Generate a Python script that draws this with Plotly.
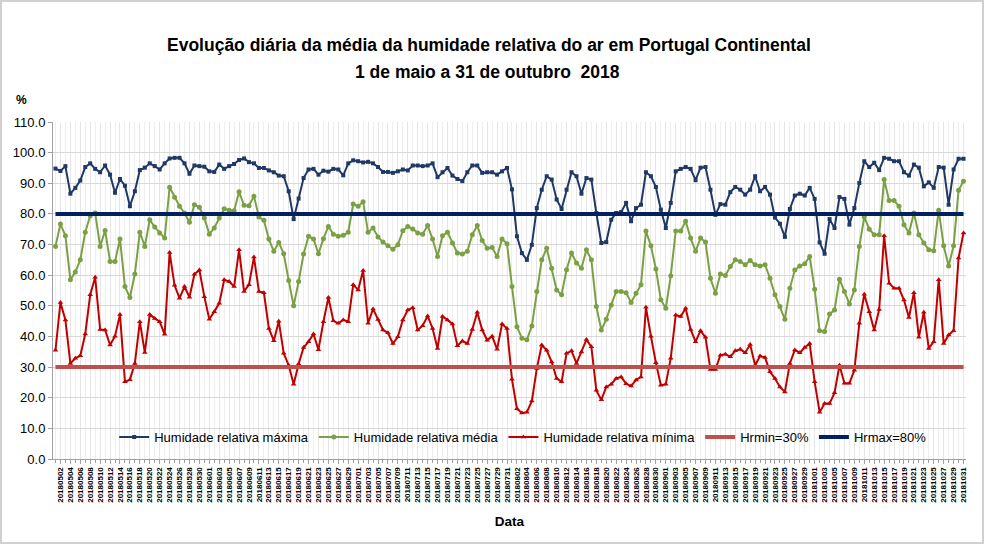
import plotly.graph_objects as go
import pandas as pd

dates = [d.strftime("%Y%m%d") for d in pd.date_range("2018-05-01", "2018-10-31", freq="D")]

hr_max = [
    94.8, 94.0, 95.6, 86.6, 88.5, 90.9, 95.3, 96.5, 94.7, 93.6, 95.8, 92.8, 86.9, 91.4, 89.2, 82.5,
    87.4, 94.3, 95.1, 96.5, 95.6, 94.5, 96.5, 98.1, 98.3, 98.3, 96.5, 93.1,
    95.8, 95.6, 95.4, 93.9, 93.7, 96.1, 94.7, 95.6, 96.3, 97.6, 98.1, 96.9, 96.5, 95.0, 95.0, 94.2,
    93.6, 92.5, 92.3, 87.4, 78.3, 85.0,
    91.7, 94.5, 94.7, 92.8, 94.1, 93.8, 94.7, 94.5, 92.6, 96.5, 97.5, 97.2, 96.8, 97.0, 96.5, 95.3,
    93.7, 93.7, 93.4, 93.9, 94.5, 94.2, 95.8, 95.8, 95.6, 95.8, 96.5, 92.0, 93.6, 95.0, 92.5, 91.4,
    90.7, 93.6, 95.8, 95.8, 93.4, 93.6, 93.6, 92.8, 93.9, 95.0, 88.0,
    72.7, 67.2, 65.0, 69.9, 81.9, 87.9, 92.3, 91.2, 84.7, 81.6, 87.9, 93.6, 92.3, 86.6, 91.7, 91.2,
    80.3, 70.5, 70.8, 78.1, 80.3, 80.6, 83.6, 77.6, 81.9, 83.0, 93.6, 92.3, 88.8, 81.4,
    75.4, 83.6, 93.9, 94.7, 95.3, 94.7, 91.0, 95.1, 95.3, 87.9, 79.7, 83.2, 83.0, 87.1, 88.8, 87.9,
    86.3, 87.9, 92.3, 87.4, 88.8, 86.3, 78.8, 76.8, 72.5, 81.6, 86.0, 86.6, 86.0, 88.5,
    84.9, 70.7, 67.0, 78.3, 75.4, 85.5, 84.9, 76.5, 81.9, 90.1, 97.2, 95.3, 96.7, 94.3, 98.3, 98.0,
    97.2, 97.2, 93.6, 92.5, 96.1, 95.1, 89.0, 90.3, 88.5, 95.3, 95.1, 83.0, 94.5, 98.0, 98.0,
]

hr_med = [
    69.4, 76.7, 72.9, 58.5, 61.0, 65.0, 74.0, 79.4, 80.3, 69.4, 74.6, 64.5, 64.5, 71.8, 56.3, 52.7,
    60.4, 74.0, 69.4, 78.1, 75.7, 73.8, 72.1, 88.7, 85.4, 82.5, 80.3, 77.3, 83.0, 82.2, 78.7, 73.4,
    75.4, 78.7, 81.7, 81.2, 81.0, 87.2, 82.8, 82.7, 85.8, 79.0, 77.9, 71.8, 67.8, 70.7, 67.0, 58.3,
    50.0, 57.9, 66.9, 72.7, 71.8, 67.0, 71.9, 75.9, 73.4, 72.7, 73.0, 74.0, 83.2, 82.5,
    84.0, 74.0, 75.4, 72.5, 70.8, 69.6, 68.5, 69.9, 74.5, 75.9, 75.1, 73.8, 73.4, 76.2, 71.8, 66.1,
    72.9, 74.0, 70.5, 67.2, 66.9, 67.8, 73.2, 76.2, 71.3, 68.8, 69.0, 66.1, 71.8, 70.3, 56.3,
    43.2, 39.4, 38.9, 43.4, 54.7, 65.0, 68.8, 62.3, 55.2, 53.6, 61.8, 67.2, 64.0, 62.3, 68.3, 65.0,
    49.8, 42.1, 45.6, 50.3, 54.7, 54.7, 54.3, 51.1, 54.1, 56.9, 74.4, 69.6, 62.0, 52.0,
    49.2, 59.8, 74.4, 74.4, 77.6, 72.1, 67.8, 72.1, 70.8, 59.0, 54.1, 60.4, 59.9, 62.8, 65.0, 64.5,
    63.4, 64.8, 63.4, 63.0, 63.4, 59.0, 53.6, 49.8, 45.6, 55.7, 61.7, 63.0, 63.7, 66.1,
    55.4, 41.9, 41.6, 47.3, 48.6, 58.7, 54.7, 50.6, 55.2, 69.4, 79.0, 75.0, 73.2, 73.2, 91.2, 84.4,
    84.4, 82.5, 76.5, 73.8, 80.3, 73.2, 70.5, 68.3, 68.0, 81.2, 69.6, 63.0, 69.6, 87.7, 90.7,
]

hr_min = [
    35.5, 51.1, 45.4, 31.2, 32.9, 33.7, 40.8, 53.6, 59.3, 42.3, 42.1, 37.2, 40.1, 47.2, 25.2, 25.9,
    31.2, 44.8, 34.8, 47.2, 45.9, 44.8, 40.7, 67.4, 56.7, 52.5, 56.3, 52.8, 60.3, 61.7, 53.0, 45.6,
    48.1, 50.8, 58.5, 57.9, 56.3, 68.3, 54.7, 56.9, 65.9, 54.7, 54.3, 42.6, 38.6, 45.0, 34.5, 30.6,
    24.4, 31.0, 36.4, 38.3, 40.8, 35.7, 44.8, 52.7, 45.1, 44.3, 45.4, 44.8, 56.9, 55.2,
    61.5, 44.3, 49.0, 45.5, 42.1, 41.2, 37.7, 39.9, 45.4, 48.6, 49.4, 42.1, 43.5, 46.7, 42.6, 36.1,
    46.5, 45.4, 44.1, 37.0, 38.5, 37.7, 42.3, 47.9, 42.1, 38.8, 40.1, 35.8, 44.1, 42.6, 26.0,
    16.4, 15.0, 15.3, 18.9, 29.5, 37.2, 35.5, 31.7, 26.3, 25.2, 34.5, 35.3, 31.2, 34.9, 39.0, 36.6,
    22.4, 19.3, 23.5, 24.4, 26.3, 26.8, 24.6, 23.8, 25.8, 26.8, 49.5, 40.1, 31.4, 24.1,
    24.4, 32.9, 47.0, 46.5, 49.2, 42.3, 38.3, 41.9, 39.7, 29.2, 29.2, 33.9, 34.2, 33.4, 35.3, 35.8,
    34.7, 37.4, 30.6, 33.6, 33.1, 28.5, 26.3, 23.5, 21.9, 31.2, 35.6, 34.7, 36.4, 37.7,
    25.2, 15.3, 18.1, 18.1, 21.6, 30.6, 24.7, 24.7, 29.0, 44.3, 53.8, 48.1, 42.1, 48.8, 72.9, 57.4,
    55.7, 55.7, 51.9, 46.2, 54.3, 39.7, 47.9, 36.1, 38.3, 58.5, 37.7, 40.5, 41.9, 65.6, 73.8,
]

hrmin_ref = [30.0] * len(dates)
hrmax_ref = [80.0] * len(dates)

y_ticks = [0, 10, 20, 30, 40, 50, 60, 70, 80, 90, 100, 110]

title_line1 = "Evolução diária da média da humidade relativa do ar em Portugal Continental"
title_line2 = "1 de maio a 31 de outubro  2018"

x = list(range(len(dates)))
font = "Liberation Sans, Arial, sans-serif"

fig = go.Figure()
fig.add_trace(go.Scatter(x=x, y=hr_max, name="Humidade relativa máxima", mode="lines+markers",
                         line=dict(color="#1F3864", width=2),
                         marker=dict(symbol="square", size=4, color="#1F3864")))
fig.add_trace(go.Scatter(x=x, y=hr_med, name="Humidade relativa média", mode="lines+markers",
                         line=dict(color="#7BA044", width=2),
                         marker=dict(symbol="circle", size=5, color="#7BA044")))
fig.add_trace(go.Scatter(x=x, y=hr_min, name="Humidade relativa mínima", mode="lines+markers",
                         line=dict(color="#C00000", width=2),
                         marker=dict(symbol="triangle-up", size=5, color="#C00000")))
fig.add_trace(go.Scatter(x=x, y=hrmin_ref, name="Hrmin=30%", mode="lines",
                         line=dict(color="#C0504D", width=4)))
fig.add_trace(go.Scatter(x=x, y=hrmax_ref, name="Hrmax=80%", mode="lines",
                         line=dict(color="#002060", width=4)))

W, H = 913.0, 337.0
fig.update_layout(
    width=984, height=544,
    margin=dict(l=53, r=18, t=122, b=85),
    paper_bgcolor="white", plot_bgcolor="white",
    font=dict(family=font, color="#000000"),
    showlegend=True,
    legend=dict(orientation="h", x=0.515, xanchor="center", y=0.065, yanchor="middle",
                bgcolor="rgba(0,0,0,0)", font=dict(size=13, family=font), itemwidth=30,
                tracegroupgap=0),
    xaxis=dict(range=[-0.5, len(dates) - 0.5], tickmode="array", tickvals=x[1::2],
               ticktext=dates[1::2], tickangle=-90, tickfont=dict(size=8, family=font, weight="bold"),
               showgrid=True, gridcolor="#E6E6E6", gridwidth=1,
               minor=dict(dtick=1, tick0=0, showgrid=True, gridcolor="#EEEEEE", ticks="outside",
                          ticklen=3, tickcolor="#A0A0A0"),
               ticks="outside", ticklen=4, tickcolor="#A0A0A0",
               showline=True, linecolor="#A0A0A0", linewidth=1, zeroline=False,
               title=dict(text="<b>Data</b>", font=dict(size=13.5, family=font), standoff=14)),
    yaxis=dict(range=[0, 110], tickmode="array", tickvals=y_ticks,
               ticktext=[f"{v:.1f}" for v in y_ticks], tickfont=dict(size=13, family=font),
               showgrid=True, gridcolor="#D9D9D9", gridwidth=1, zeroline=False,
               showline=True, linecolor="#A0A0A0", linewidth=1, ticks="outside", ticklen=4,
               tickcolor="#A0A0A0"),
    annotations=[
        dict(text="<b>" + title_line1 + "</b>", xref="paper", yref="paper",
             x=(489 - 53) / W, y=(459 - 45) / H, showarrow=False, xanchor="center", yanchor="middle",
             font=dict(size=17.5, family=font)),
        dict(text="<b>" + title_line2 + "</b>", xref="paper", yref="paper",
             x=(487 - 53) / W, y=(459 - 72) / H, showarrow=False, xanchor="center", yanchor="middle",
             font=dict(size=17.5, family=font)),
        dict(text="<b>%</b>", xref="paper", yref="paper", x=(21 - 53) / W, y=(459 - 100) / H,
             showarrow=False, xanchor="center", yanchor="middle", font=dict(size=12, family=font)),
    ],
    shapes=[dict(type="rect", xref="paper", yref="paper",
                 x0=(1 - 53) / W, x1=(983 - 53) / W, y0=(459 - 543) / H, y1=(459 - 1) / H,
                 line=dict(color="#D0D0D0", width=2), fillcolor="rgba(0,0,0,0)", layer="below")],
)

fig.write_html("out.html")
